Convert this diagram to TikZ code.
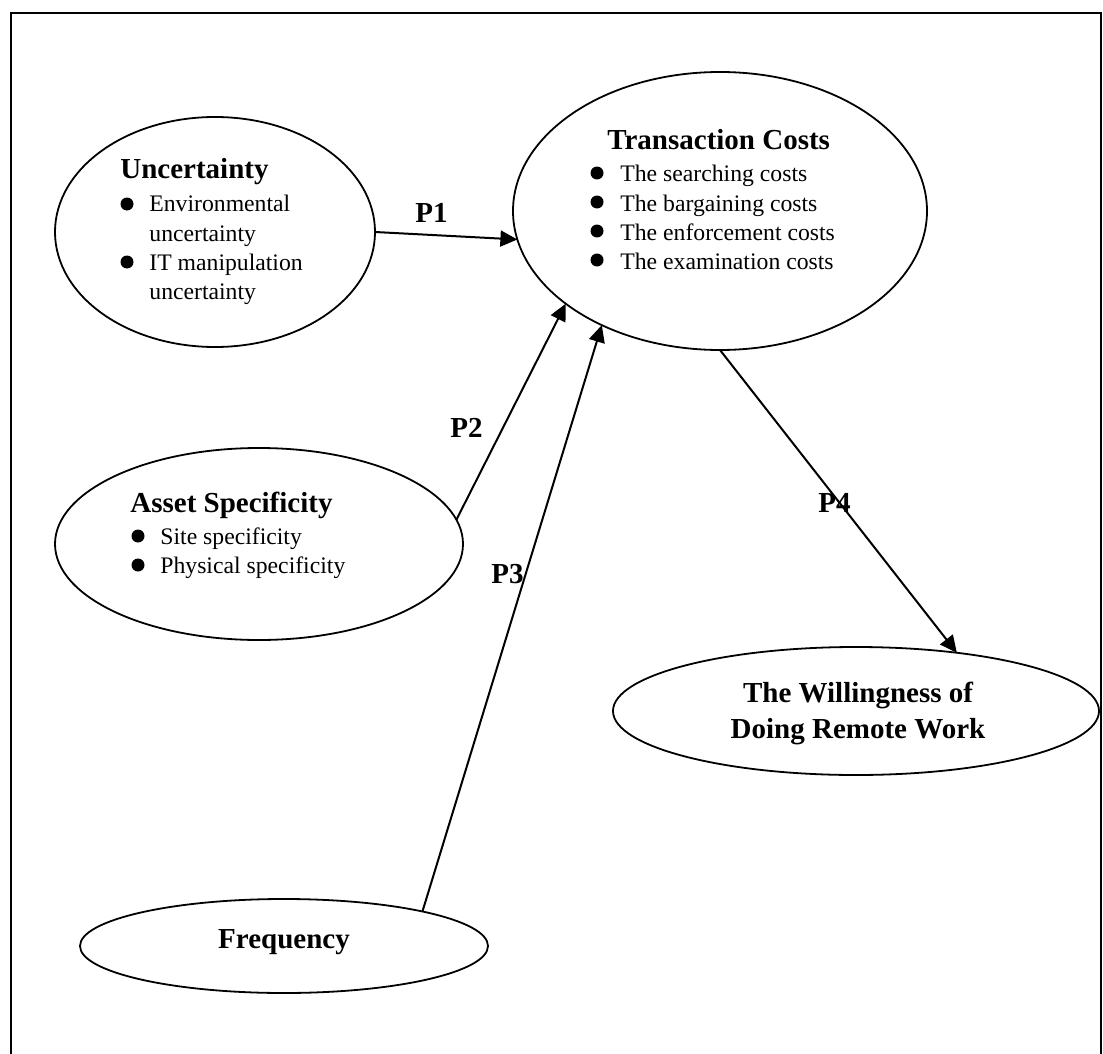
\documentclass[tikz,border=0pt]{standalone}
\usepackage{fontspec}
\setmainfont{Liberation Serif}
\usetikzlibrary{shapes.geometric,arrows.meta}
\begin{document}
\begin{tikzpicture}[x=0.5pt,y=-0.5pt,
  oval/.style={ellipse,draw,line width=0.9pt,inner sep=0pt,outer sep=0pt},
  ttl/.style={anchor=base west,inner sep=0pt,font=\fontsize{14.5}{17}\selectfont\bfseries},
  ctl/.style={anchor=base,inner sep=0pt,font=\fontsize{14.5}{17}\selectfont\bfseries},
  itm/.style={anchor=base west,inner sep=0pt,font=\fontsize{11.85}{14}\selectfont},
  dot/.style={circle,fill,inner sep=0pt,minimum size=6.5pt},
  conn/.style={line width=1pt,-{Triangle[length=8.5pt,width=8pt]}},
  plab/.style={anchor=base west,inner sep=0pt,font=\fontsize{14.5}{17}\selectfont\bfseries}]
\useasboundingbox (0,0) rectangle (1103,1054);
\fill[white] (0,0) rectangle (1103,1054);
\draw[line width=1.1pt] (11,1070) -- (11,13) -- (1101,13) -- (1101,1070);

% ellipses
\node[oval,minimum width=160pt,minimum height=115pt] (unc) at (215,232) {};
\node[oval,minimum width=207pt,minimum height=139pt] (tc) at (720,211) {};
\node[oval,minimum width=204pt,minimum height=96pt] (asset) at (259,544) {};
\node[oval,minimum width=204pt,minimum height=47pt] (freq) at (284,946) {};
\node[oval,minimum width=243pt,minimum height=64pt] (will) at (856,711) {};

% Uncertainty
\node[ttl] (uncT) at (120,178) {Uncertainty};
\node[dot] (uncB1) at (127,204) {};
\node[itm] (uncI1) at (149,212) {Environmental};
\node[itm] (uncI1b) at (149,241) {uncertainty};
\node[dot] (uncB2) at (127,262) {};
\node[itm] (uncI2) at (149,270) {IT manipulation};
\node[itm] (uncI2b) at (149,299) {uncertainty};

% Transaction Costs
\node[ttl] (tcT) at (607,149) {Transaction Costs};
\node[dot] (tcB1) at (597,173) {};
\node[itm] (tcI1) at (620,182) {The searching costs};
\node[dot] (tcB2) at (597,202) {};
\node[itm] (tcI2) at (620,211) {The bargaining costs};
\node[dot] (tcB3) at (597,231) {};
\node[itm] (tcI3) at (620,240) {The enforcement costs};
\node[dot] (tcB4) at (597,260) {};
\node[itm] (tcI4) at (620,269) {The examination costs};

% Asset Specificity
\node[ttl] (assetT) at (130,512) {Asset Specificity};
\node[dot] (assetB1) at (138,536) {};
\node[itm] (assetI1) at (160,544) {Site specificity};
\node[dot] (assetB2) at (138,565) {};
\node[itm] (assetI2) at (160,573) {Physical specificity};

% Frequency
\node[ctl] (freqT) at (284,948) {Frequency};

% Willingness
\node[ctl] (willT1) at (858,702) {The Willingness of};
\node[ctl] (willT2) at (858,738) {Doing Remote Work};

% connectors
\draw[conn] (unc.east) -- (tc.188);
\draw[conn] (asset.7) -- (tc.211);
\draw[conn] (freq.14) -- (tc.224);
\draw[conn] (tc.south) -- (will.30);

% labels
\node[plab] (p1) at (415,222) {P1};
\node[plab] (p2) at (450,437) {P2};
\node[plab] (p3) at (491,583) {P3};
\node[plab] (p4) at (818,512) {P4};
\end{tikzpicture}
\end{document}
